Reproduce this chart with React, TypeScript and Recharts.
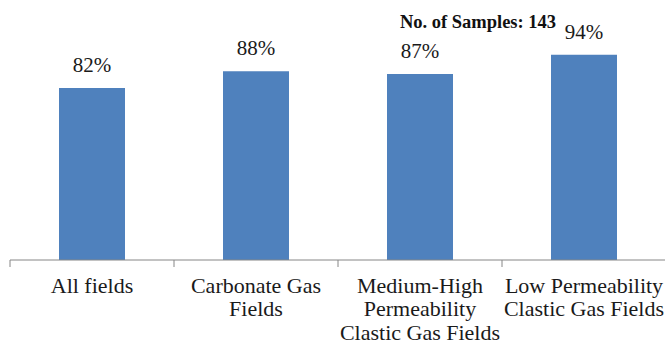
import { BarChart, Bar, XAxis, YAxis, LabelList } from 'recharts'

const categories = [
  'All fields',
  'Carbonate Gas Fields',
  'Medium-High Permeability Clastic Gas Fields',
  'Low Permeability Clastic Gas Fields',
]
const tickLines = [
  ['All fields'],
  ['Carbonate Gas', 'Fields'],
  ['Medium-High', 'Permeability', 'Clastic Gas Fields'],
  ['Low Permeability', 'Clastic Gas Fields'],
]
const shares = [82, 88, 87, 94]
const sampleCount = 143

const data = categories.map((name, i) => ({ name, share: shares[i] }))

const W = 665
const H = 345
const margin = { top: 38, right: -1, left: 10, bottom: 0 }
const halfBand = (W - margin.left - margin.right) / categories.length / 2
const font = '"Liberation Serif", "Times New Roman", serif'

interface TickProps {
  x?: number
  y?: number
  payload?: { value: string }
}

function CategoryTick({ x = 0, y = 0, payload }: TickProps) {
  const idx = categories.indexOf(payload?.value ?? '')
  const lines = tickLines[idx] ?? [payload?.value ?? '']
  return (
    <g>
      <line x1={x - halfBand} y1={y} x2={x - halfBand} y2={y + 7} stroke="#868686" strokeWidth={1} />
      <text x={x} y={y + 32.5} textAnchor="middle" fontSize={22} fill="#1a1a1a" fontFamily={font}>
        {lines.map((l, i) => (
          <tspan key={i} x={x} dy={i === 0 ? 0 : 23.5}>
            {l}
          </tspan>
        ))}
      </text>
    </g>
  )
}

export default function App() {
  return (
    <div style={{ position: 'absolute', left: 0, top: 0, width: W, height: H, background: '#fff' }}>
      <div
        style={{
          position: 'absolute',
          left: 378,
          top: 12,
          width: 200,
          textAlign: 'center',
          fontFamily: font,
          fontWeight: 'bold',
          fontSize: 18.5,
          color: '#111',
          whiteSpace: 'nowrap',
        }}
      >
        No. of Samples: {sampleCount}
      </div>
      <BarChart width={W} height={H} data={data} margin={margin}>
        <XAxis
          dataKey="name"
          height={85}
          interval={0}
          tickLine={false}
          tickSize={0}
          tickMargin={0}
          axisLine={{ stroke: '#868686', strokeWidth: 1 }}
          tick={<CategoryTick />}
        />
        <YAxis hide domain={[20, 100]} />
        <Bar dataKey="share" fill="#4f81bd" barSize={66} isAnimationActive={false}>
          <LabelList
            dataKey="share"
            position="top"
            offset={16}
            formatter={(v: number) => `${v}%`}
            style={{ fontSize: 21, fill: '#1a1a1a', fontFamily: font }}
          />
        </Bar>
      </BarChart>
    </div>
  )
}
